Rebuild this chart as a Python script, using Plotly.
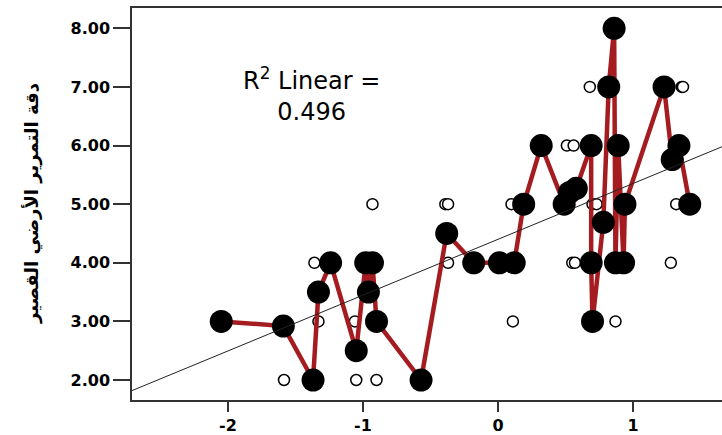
import plotly.graph_objects as go

# Small open circles (all cases)
open_x = [-1.585, -1.36, -1.33, -1.06, -1.05, -0.90, -0.93, -0.39, -0.37, -0.37,
          0.10, 0.11, 0.51, 0.56, 0.68, 1.36, 1.37, 1.32, 0.55, 0.57, 1.28, 0.87,
          0.70, 0.73]
open_y = [2.0, 4.0, 3.0, 3.0, 2.0, 2.0, 5.0, 5.0, 5.0, 4.0,
          5.0, 3.0, 6.0, 6.0, 7.0, 7.0, 7.0, 5.0, 4.0, 4.0, 4.0, 3.0,
          5.0, 5.0]

# Large filled points connected by the red line (sorted by x)
filled_x = [-2.05, -1.59, -1.37, -1.33, -1.24, -1.05, -0.98, -0.96, -0.93, -0.90,
            -0.57, -0.38, -0.18, 0.01, 0.12, 0.19, 0.32, 0.49, 0.53, 0.58,
            0.69, 0.69, 0.70, 0.78, 0.82, 0.86, 0.87, 0.89, 0.93, 0.94,
            1.23, 1.29, 1.34, 1.42]
filled_y = [3.0, 2.92, 2.0, 3.5, 4.0, 2.5, 4.0, 3.5, 4.0, 3.0,
            2.0, 4.5, 4.0, 4.0, 4.0, 5.0, 6.0, 5.0, 5.2, 5.27,
            6.0, 4.0, 3.0, 4.69, 7.0, 8.0, 4.0, 6.0, 4.0, 5.0,
            7.0, 5.76, 6.0, 5.0]

# Linear fit
fit_intercept = 4.40
fit_slope = 0.952
r_squared = 0.496

y_ticks = [2, 3, 4, 5, 6, 7, 8]
x_ticks = [-2, -1, 0, 1]
x_range = [-2.711, 1.659]
y_range = [1.659, 8.346]
y_title = "دقة التمرير الأرضي القصير"

fig = go.Figure()

fig.add_trace(go.Scatter(
    x=open_x, y=open_y, mode="markers",
    marker=dict(symbol="circle", size=11, color="white",
                line=dict(color="black", width=1.5)),
    hoverinfo="skip", showlegend=False))

fig.add_trace(go.Scatter(
    x=filled_x, y=filled_y, mode="lines+markers",
    line=dict(color="#a51c20", width=4.5),
    marker=dict(symbol="circle", size=23, color="black",
                line=dict(width=0)),
    showlegend=False))

fit_x = x_range
fit_y = [fit_intercept + fit_slope * v for v in fit_x]
fig.add_trace(go.Scatter(
    x=fit_x, y=fit_y, mode="lines",
    line=dict(color="#222222", width=1),
    hoverinfo="skip", showlegend=False))

tickfont = dict(family="DejaVu Sans", size=16, color="black", weight="bold")

fig.update_layout(
    width=722, height=435,
    margin=dict(l=132, r=0, t=8, b=35),
    paper_bgcolor="white", plot_bgcolor="white",
    xaxis=dict(range=x_range, tickvals=x_ticks, ticktext=[str(v) for v in x_ticks],
               showgrid=False, zeroline=False, showline=True, linecolor="#333333",
               linewidth=1.5, mirror=True, ticks="outside", ticklen=10,
               tickwidth=2, tickcolor="#333333", tickfont=tickfont),
    yaxis=dict(range=y_range, tickvals=y_ticks, ticktext=[f"{v:.2f}" for v in y_ticks],
               showgrid=False, zeroline=False, showline=True, linecolor="#333333",
               linewidth=1.5, mirror=False, ticks="outside", ticklen=17,
               tickwidth=1.5, tickcolor="#333333", tickfont=tickfont),
    annotations=[
        dict(text=f"R<sup>2</sup> Linear =<br>{r_squared:.3f}",
             xref="paper", yref="paper", x=0.305, y=0.78,
             xanchor="center", yanchor="middle", showarrow=False,
             font=dict(family="DejaVu Sans", size=24, color="black")),
        dict(text=y_title, xref="paper", yref="paper",
             x=(32 - 132) / 590, y=0.5, xanchor="center", yanchor="middle",
             textangle=-90, showarrow=False,
             font=dict(family="DejaVu Sans", size=18, color="black", weight="bold")),
    ],
)

fig.write_html("out.html",
               config={"displayModeBar": False},
               post_script="document.body.style.margin='0';"
                           "document.body.style.overflow='hidden';")
